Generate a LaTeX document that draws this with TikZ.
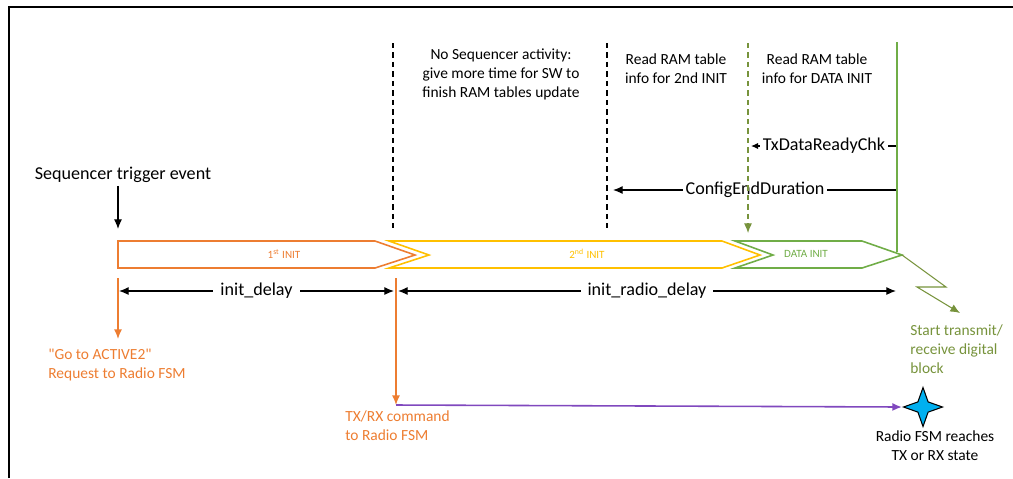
\documentclass[tikz,border=0pt]{standalone}
\usepackage{fontspec}
\setmainfont{Carlito}
\newfontfamily\plaincarlito{Carlito}
\usepackage{tikz}
\usetikzlibrary{shapes,arrows.meta,positioning,calc}
\usepackage{xcolor}
\definecolor{initorange}{RGB}{237,125,49}
\definecolor{inityellow}{RGB}{255,192,0}
\definecolor{initgreen}{RGB}{112,173,71}
\definecolor{olivegreen}{RGB}{119,147,60}
\definecolor{cmdpurple}{RGB}{128,72,190}
\definecolor{starcyan}{RGB}{0,176,240}

\begin{document}
\begin{tikzpicture}[x=0.02cm,y=-0.02cm,>={Latex[length=5.5pt,width=4.6pt]},
        bigtxt/.style={font=\fontsize{10.3}{12}\selectfont,inner sep=1.5pt},
        smalltxt/.style={font=\fontsize{8.8}{10.8}\selectfont,align=center,inner sep=0pt},
        tinytxt/.style={font=\fontsize{6.3}{7}\selectfont,inner sep=0pt},
        phase/.style={line width=0.9pt},
        sepline/.style={dash pattern=on 3pt off 2.4pt,line width=0.6pt},
        dimline/.style={<->,line width=0.7pt}]
    \useasboundingbox (0,0) rectangle (1013,478);
    % page frame
    \draw[line width=1pt] (9,478) -- (9,7) -- (1013,7);

    % init phases
    \draw[phase,initorange] (118,241) -- (375,241) -- (415,255) -- (375,268) -- (118,268) -- cycle;
    \draw[phase,inityellow] (389,241) -- (722,241) -- (760,255) -- (722,268) -- (389,268) -- (429,255) -- cycle;
    \draw[phase,initgreen] (735,241) -- (862,241) -- (902,255) -- (862,268) -- (735,268) -- (773,255) -- cycle;
    \node[tinytxt,text=initorange] (init1) at (284,254) {1\textsuperscript{st} INIT};
    \node[tinytxt,text=inityellow] (init2) at (587,254) {2\textsuperscript{nd} INIT};
    \node[tinytxt,text=initgreen] (initdata) at (806,254) {DATA INIT};
    \coordinate (dataend) at (902,255);

    % trigger
    \node[bigtxt] (trigger) at (123,175) {Sequencer trigger event};
    \coordinate (trighit) at (118,229);
    \draw[->,line width=0.7pt] (trigger.south -| trighit) -- (trighit);

    % what happens between the inits
    \node[smalltxt] (idle) at (501,74) {No Sequencer activity:\\give more time for SW to\\finish RAM tables update};
    \node[smalltxt] (read2) at (676,69) {Read RAM table\\info for 2nd INIT};
    \node[smalltxt] (readdata) at (817,69) {Read RAM table\\info for DATA INIT};

    % durations counted back from tx start
    \coordinate (tdrR) at (897,146); \coordinate (tdrL) at (751,146);
    \draw[-{Latex[length=4pt,width=3.6pt]},line width=0.7pt] (tdrR) -- node[bigtxt,fill=white] (tdr) {TxDataReadyChk} (tdrL);
    \coordinate (cedR) at (897,190); \coordinate (cedL) at (613,190);
    \draw[->,line width=0.7pt] (cedR) -- node[bigtxt,fill=white] (ced) {ConfigEndDuration} (cedL);

    % separators
    \coordinate (sepAtop) at (393,43);  \coordinate (sepAbot) at (393,228);
    \coordinate (sepBtop) at (607,43);  \coordinate (sepBbot) at (607,228);
    \coordinate (sepCtop) at (748,43);  \coordinate (sepCbot) at (748,233);
    \coordinate (txtop) at (897,42);    \coordinate (txbot) at (897,252);
    \draw[sepline] (sepAtop) -- (sepAbot);
    \draw[sepline] (sepBtop) -- (sepBbot);
    \draw[sepline,olivegreen,->] (sepCtop) -- (sepCbot);
    \draw[initgreen,line width=0.8pt] (txtop) -- (txbot);

    % delays
    \coordinate (dlyA) at (119,291); \coordinate (dlyB) at (394,291);
    \coordinate (rdyA) at (398,291); \coordinate (rdyB) at (896,291);
    \draw[dimline] (dlyA) -- node[bigtxt,fill=white,inner xsep=4pt] (dly) {init\_delay} (dlyB);
    \draw[dimline] (rdyA) -- node[bigtxt,fill=white,inner xsep=4pt] (rdy) {init\_radio\_delay} (rdyB);

    % requests to radio fsm
    \coordinate (reqA) at (118,278); \coordinate (reqB) at (118,339);
    \draw[initorange,->,line width=0.8pt] (reqA) -- (reqB);
    \node[smalltxt,text=initorange,align=left,anchor=west] (req) at (48,365) {{\plaincarlito "Go to ACTIVE2"}\\Request to Radio FSM};
    \coordinate (cmdA) at (396,278); \coordinate (cmdB) at (396,405);
    \draw[initorange,->,line width=0.8pt] (cmdA) -- (cmdB);
    \node[smalltxt,text=initorange,align=left,anchor=west] (cmd) at (345,426) {TX/RX command\\to Radio FSM};

    % radio fsm ready
    \node[star,star points=4,star point ratio=2.7,minimum size=0.78cm,inner sep=0pt,fill=starcyan,draw=black,line width=0.6pt] (reach) at (923,407) {};
    \draw[cmdpurple,->,line width=0.9pt] (cmdB) -- (reach.west);
    \node[smalltxt] (reachtxt) at (935,446) {Radio FSM reaches\\TX or RX state};

    % start of digital block
    \coordinate (boltA) at (946,287); \coordinate (boltB) at (917,287); \coordinate (boltC) at (960,313);
    \draw[olivegreen,->,line width=0.6pt] (dataend) -- (boltA) -- (boltB) -- (boltC);
    \node[smalltxt,text=olivegreen,align=left,anchor=west] (start) at (910,349) {Start transmit/\\receive digital\\block};
\end{tikzpicture}
\end{document}
